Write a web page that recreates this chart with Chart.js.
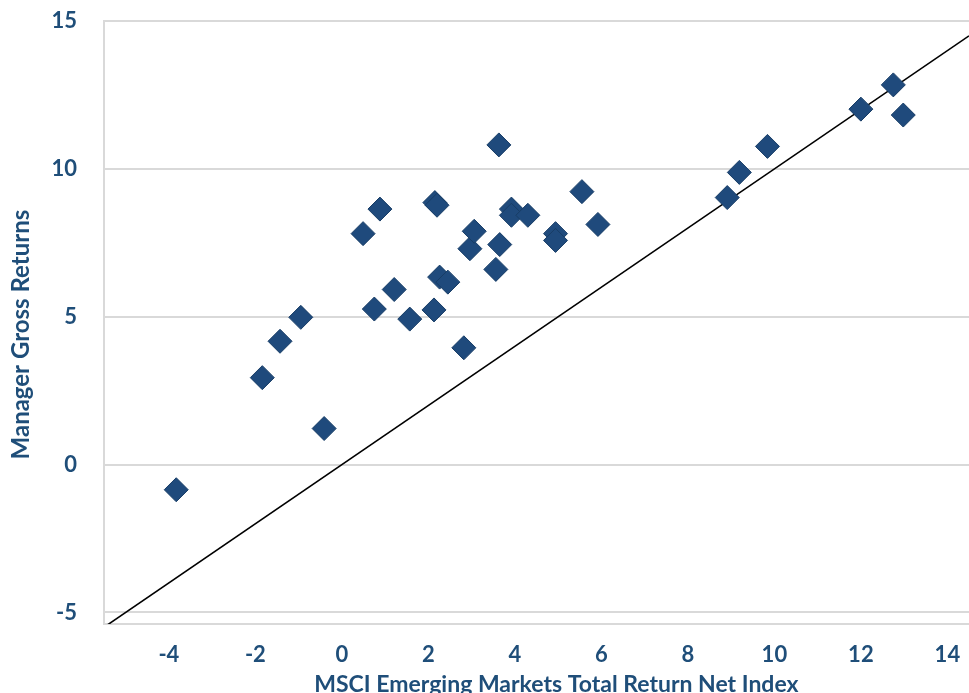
<!DOCTYPE html>
<html>
<head>
<meta charset="utf-8">
<script src="https://cdn.jsdelivr.net/npm/chart.js@4/dist/chart.umd.min.js"></script>
<style>
  html, body { margin: 0; padding: 0; background: #ffffff; overflow: hidden; }
  #wrap { width: 969px; height: 693px; overflow: hidden; }
  canvas { display: block; }
</style>
</head>
<body>
<div id="wrap"><canvas id="c" width="983" height="710"></canvas></div>
<script>
// Data
const msciReturns = [-3.83, -1.84, -1.43, -0.95, -0.41, 0.49, 0.88, 0.75, 1.21, 1.57,
  2.13, 2.15, 2.20, 2.26, 2.45, 2.82, 2.96, 3.06, 3.56, 3.65,
  3.63, 3.92, 3.92, 4.30, 4.94, 4.94, 5.55, 5.92, 8.91, 9.19,
  9.84, 12.00, 12.75, 12.98];
const managerReturns = [-0.85, 2.94, 4.17, 4.98, 1.22, 7.81, 8.64, 5.26, 5.92, 4.92,
  5.23, 8.86, 8.77, 6.34, 6.17, 3.95, 7.30, 7.89, 6.60, 7.44,
  10.81, 8.64, 8.43, 8.43, 7.81, 7.58, 9.23, 8.12, 9.03, 9.88,
  10.76, 12.02, 12.84, 11.82];
const identityLine = [-5.5, 14.5];
const xTicks = [-4, -2, 0, 2, 4, 6, 8, 10, 12, 14];
const yTicks = [-5, 0, 5, 10, 15];
const xTitle = 'MSCI Emerging Markets Total Return Net Index';
const yTitle = 'Manager Gross Returns';

const textColor = '#1f4e79';
const gridColor = '#d9d9d9';
const fontFamily = 'Lato, "Open Sans", sans-serif';

const points = msciReturns.map((x, i) => ({ x: x, y: managerReturns[i] }));
const linePts = identityLine.map(v => ({ x: v, y: v }));

function noPad(scale) {
  scale.paddingTop = 0; scale.paddingBottom = 0;
  scale.paddingLeft = 0; scale.paddingRight = 0;
}

// Axis titles drawn as canvas text, placed like the reference
const axisTitles = {
  id: 'axisTitles',
  afterDraw(chart) {
    const { ctx, chartArea } = chart;
    ctx.save();
    ctx.fillStyle = textColor;
    ctx.textAlign = 'center';
    ctx.textBaseline = 'middle';
    ctx.font = 'bold 23px ' + fontFamily;
    ctx.fillText(xTitle, chartArea.left + 0.523 * (chartArea.right - chartArea.left), 685);
    ctx.translate(21, chartArea.top + 0.52 * (chartArea.bottom - chartArea.top));
    ctx.rotate(-Math.PI / 2);
    ctx.font = 'bold 24px ' + fontFamily;
    ctx.fillText(yTitle, 0, 0);
    ctx.restore();
  }
};

new Chart(document.getElementById('c'), {
  type: 'scatter',
  data: {
    datasets: [
      {
        label: 'Managers',
        data: points,
        pointStyle: 'rectRot',
        pointRadius: 12,
        backgroundColor: '#1f4a7c',
        borderColor: '#183d66',
        borderWidth: 1,
        order: 0
      },
      {
        type: 'line',
        label: 'y = x',
        data: linePts,
        borderColor: '#000000',
        borderWidth: 1.6,
        pointRadius: 0,
        fill: false,
        order: 1
      }
    ]
  },
  plugins: [axisTitles],
  options: {
    responsive: false,
    animation: false,
    devicePixelRatio: 1,
    layout: { padding: { top: 21, right: 14, bottom: 0, left: 0 } },
    plugins: { legend: { display: false }, tooltip: { enabled: false } },
    scales: {
      x: {
        type: 'linear',
        min: -5.5,
        max: 14.5,
        afterBuildTicks: (axis) => { axis.ticks = xTicks.map(v => ({ value: v })); },
        afterFit: (scale) => { scale.height = 86; noPad(scale); },
        grid: { display: false, drawTicks: false },
        border: { display: true, color: gridColor, width: 2 },
        ticks: {
          color: textColor,
          padding: 18,
          maxRotation: 0,
          font: { family: fontFamily, size: 22, weight: 'bold' }
        },
        title: { display: false, text: xTitle }
      },
      y: {
        type: 'linear',
        min: -5.39,
        max: 15,
        afterBuildTicks: (axis) => { axis.ticks = yTicks.map(v => ({ value: v })); },
        afterFit: (scale) => { scale.width = 104; noPad(scale); },
        grid: { color: gridColor, lineWidth: 2, drawTicks: false },
        border: { display: true, color: gridColor, width: 2 },
        ticks: {
          color: textColor,
          padding: 27,
          font: { family: fontFamily, size: 22, weight: 'bold' }
        },
        title: { display: false, text: yTitle }
      }
    }
  }
});
</script>
</body>
</html>
